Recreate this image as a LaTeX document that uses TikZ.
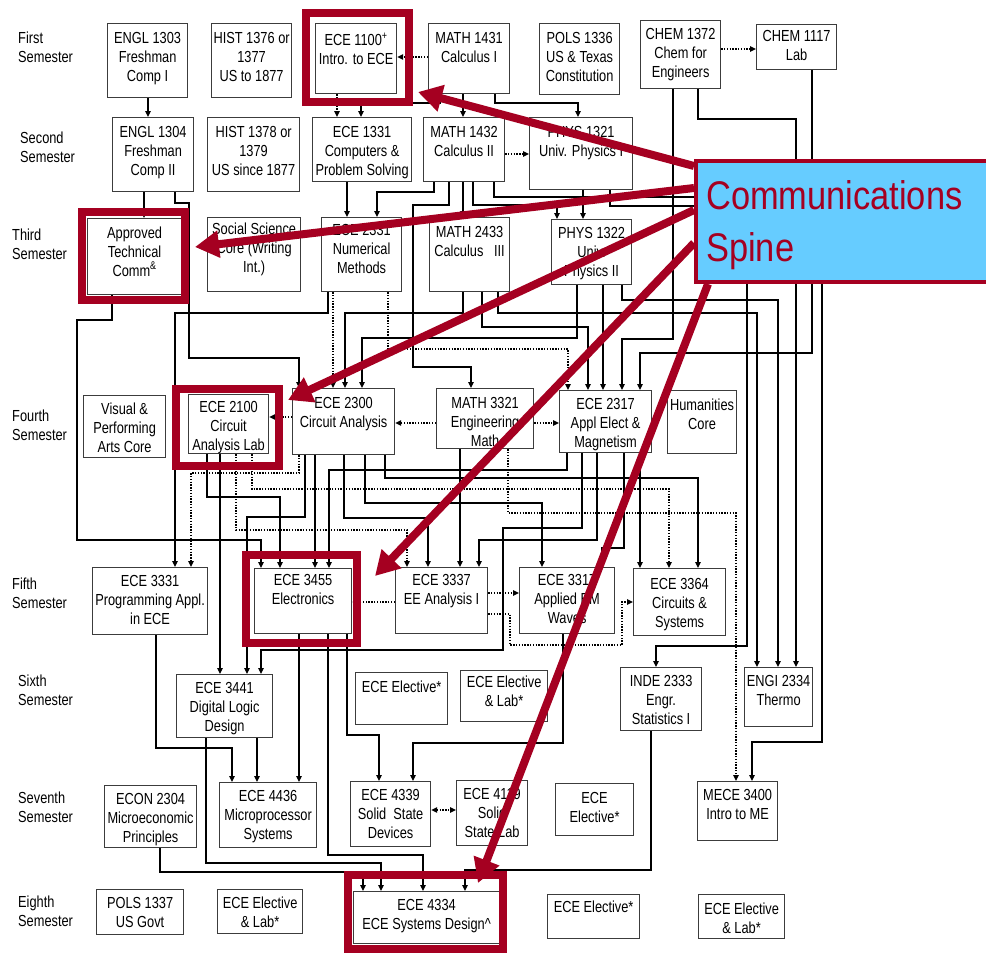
\documentclass[tikz,border=0pt]{standalone}
\usepackage{fontspec}
\usetikzlibrary{arrows.meta}
\newfontfamily\cf{Liberation Sans}[FakeStretch=0.8]
\newfontfamily\spinefont{Liberation Sans}[FakeStretch=0.86]
\newcommand\tf{\cf\fontsize{16}{19}\selectfont}
\newcommand\cs{\rule{0pt}{11.5pt}}
\definecolor{spred}{RGB}{165,0,33}
\definecolor{spblue}{RGB}{102,204,255}
\definecolor{boxc}{RGB}{60,60,60}
\pgfdeclarelayer{fg}
\pgfsetlayers{main,fg}
\tikzset{
 box/.style={draw=boxc, line width=1.2pt, fill=white, inner sep=0pt, anchor=north west, font=\tf},
 lab/.style={anchor=north west, inner sep=0pt, align=left, font=\tf},
 wire/.style={line width=1.1pt},
 arr/.style={wire, -{Triangle[length=6pt,width=5.5pt]}},
 dotw/.style={line width=1.3pt, dash pattern=on 1.4pt off 1.4pt},
 darr/.style={dotw, -{Triangle[length=6pt,width=5.5pt]}},
 dd/.style={dotw, {Triangle[length=6pt,width=5.5pt]}-{Triangle[length=6pt,width=5.5pt]}},
 frame/.style={draw=spred, line width=8pt},
 spinearr/.style={draw=spred, line width=8pt, -{Triangle[length=24pt,width=26pt]}},
}
\newcommand\cbox[7]{\node[box] (#1) at (#2,#3) {\parbox[c][#5pt][t]{#4pt}{\centering\vspace*{#6pt}\cs #7\par}};}
\begin{document}
\begin{tikzpicture}[x=1pt,y=-1pt]
\useasboundingbox (0,0) rectangle (986,953);
% semester labels
\node[lab] (s1) at (18,32) {\cs First\\Semester};
\node[lab] (s2) at (20,132) {\cs Second\\Semester};
\node[lab] (s3) at (12,229) {\cs Third\\Semester};
\node[lab] (s4) at (12,410) {\cs Fourth\\Semester};
\node[lab] (s5) at (12,578) {\cs Fifth\\Semester};
\node[lab] (s6) at (18,675) {\cs Sixth\\Semester};
\node[lab] (s7) at (18,792) {\cs Seventh\\Semester};
\node[lab] (s8) at (18,896) {\cs Eighth\\Semester};
% boxes
\cbox{engl1303}{107}{23}{80}{74}{8}{ENGL 1303\\Freshman\\Comp I}
\cbox{hist1376}{211}{23}{80}{74}{8}{HIST 1376 or\\1377\\US to 1877}
\cbox{ece1100}{315}{23}{81}{70}{9}{ECE 1100\textsuperscript{+}\\Intro. to ECE}
\cbox{math1431}{428}{23}{81}{70}{8}{MATH 1431\\Calculus I}
\cbox{pols1336}{539}{23}{80}{71}{8}{POLS 1336\\US \& Texas\\Constitution}
\cbox{chem1372}{640}{20}{80}{68}{7}{CHEM 1372\\Chem for\\Engineers}
\cbox{chem1117}{756}{24}{80}{45}{5}{CHEM 1117\\Lab}
\cbox{engl1304}{112}{117}{81}{74}{8}{ENGL 1304\\Freshman\\Comp II}
\cbox{hist1378}{207}{117}{92}{74}{8}{HIST 1378 or\\1379\\US since 1877}
\cbox{ece1331}{312}{117}{99}{64}{8}{ECE 1331\\Computers \&\\Problem Solving}
\cbox{math1432}{423}{117}{81}{64}{8}{MATH 1432\\Calculus II}
\cbox{phys1321}{529}{117}{103}{72}{8}{PHYS 1321\\Univ. Physics I}
\cbox{atc}{87}{218}{94}{76}{8}{Approved\\Technical\\Comm\textsuperscript{\&}}
\cbox{socsci}{207}{217}{93}{74}{5}{Social Science\\Core (Writing\\Int.)}
\cbox{ece2331}{321}{217}{80}{74}{6}{ECE 2331\\Numerical\\Methods}
\cbox{math2433}{429}{217}{80}{74}{8}{MATH 2433\\Calculus\ \ \ III}
\cbox{phys1322}{551}{219}{80}{65}{7}{PHYS 1322\\Univ.\\Physics II}
\cbox{visual}{83}{395}{82}{62}{7}{Visual \&\\Performing\\Arts Core}
\cbox{ece2100}{188}{394}{80}{59}{6}{ECE 2100\\Circuit\\Analysis Lab}
\cbox{ece2300}{292}{388}{102}{66}{8}{ECE 2300\\Circuit Analysis}
\cbox{math3321}{436}{388}{97}{60}{8}{MATH 3321\\Engineering\\Math}
\cbox{ece2317}{559}{390}{92}{62}{7}{ECE 2317\\Appl Elect \&\\Magnetism}
\cbox{human}{667}{390}{69}{63}{8}{Humanities\\Core}
\cbox{ece3331}{92}{567}{115}{67}{7}{ECE 3331\\Programming Appl.\\in ECE}
\cbox{ece3455}{254}{568}{97}{65}{5}{ECE 3455\\Electronics}
\cbox{ece3337}{395}{567}{92}{66}{6}{ECE 3337\\EE Analysis I}
\cbox{ece3317}{519}{567}{95}{66}{6}{ECE 3317\\Applied EM\\Waves}
\cbox{ece3364}{633}{568}{92}{67}{9}{ECE 3364\\Circuits \&\\Systems}
\cbox{ece3441}{176}{674}{96}{63}{7}{ECE 3441\\Digital Logic\\Design}
\cbox{elecsixa}{355}{672}{92}{52}{8}{ECE Elective*}
\cbox{elecsixb}{460}{670}{87}{51}{5}{ECE Elective\\\& Lab*}
\cbox{inde2333}{620}{667}{81}{63}{7}{INDE 2333\\Engr.\\Statistics I}
\cbox{engi2334}{744}{667}{68}{59}{7}{ENGI 2334\\Thermo}
\cbox{econ2304}{104}{785}{92}{62}{7}{ECON 2304\\Microeconomic\\Principles}
\cbox{ece4436}{219}{782}{97}{65}{7}{ECE 4436\\Microprocessor\\Systems}
\cbox{ece4339}{350}{781}{80}{65}{7}{ECE 4339\\Solid\ \ State\\Devices}
\cbox{ece4119}{456}{780}{71}{65}{7}{ECE 4119\\Solid\\State Lab}
\cbox{elecseven}{555}{783}{78}{52}{8}{ECE\\Elective*}
\cbox{mece3400}{697}{781}{80}{59}{7}{MECE 3400\\Intro to ME}
\cbox{pols1337}{96}{889}{87}{45}{7}{POLS 1337\\US Govt}
\cbox{eleceighta}{217}{889}{85}{44}{7}{ECE Elective\\\& Lab*}
\cbox{ece4334}{353}{891}{146}{52}{7}{ECE 4334\\ECE Systems Design\textasciicircum}
\cbox{eleceightb}{547}{894}{92}{44}{6}{ECE Elective*}
\cbox{eleceightc}{698}{894}{86}{44}{8}{ECE Elective\\\& Lab*}
% connectors rows 1-3
\draw[arr] (engl1303.south -| 148,0) -- (engl1304.north -| 148,0);
\draw[darr] (ece1100.south -| 337,0) -- (ece1331.north -| 337,0);
\draw[arr] (math1431.south -| 440,0) |- (361,103) -- (ece1331.north -| 361,0);
\draw[arr] (math1431.south -| 463,0) -- (math1432.north -| 463,0);
\draw[arr] (math1431.south -| 495,0) |- (578,103) -- (phys1321.north -| 578,0);
\draw[darr] (math1431.west |- 0,57) -- (ece1100.east |- 0,57);
\draw[darr] (chem1372.east |- 0,49) -- (chem1117.west |- 0,49);
\draw[darr] (math1432.east |- 0,154) -- (phys1321.west |- 0,154);
\draw[arr] (engl1304.south -| 144,0) -- (atc.north -| 144,0);
\draw[arr] (engl1304.south -| 175,0) |- (189,203) |- (299,358) -- (ece2300.north -| 299,0);
\draw[arr] (ece1331.south -| 347,0) -- (ece2331.north -| 347,0);
\draw[arr] (math1432.south -| 434,0) |- (377,192) -- (ece2331.north -| 377,0);
\draw[arr] (math1432.south -| 449,0) |- (413,205) |- (471,367) -- (math3321.north -| 471,0);
\draw[arr] (math1432.south -| 463,0) -- (math2433.north -| 463,0);
\draw[arr] (math1432.south -| 473,0) |- (557,205) -- (phys1322.north -| 557,0);
\draw[arr] (math1432.south -| 494,0) |- (747,197) |- (656,646) -- (inde2333.north -| 656,0);
\draw[arr] (phys1321.south -| 583,0) -- (phys1322.north -| 583,0);
\draw[arr] (phys1321.south -| 610,0) |- (822,206) |- (752,742) -- (mece3400.north -| 752,0);
\draw[arr] (ece2331.south -| 328,0) |- (175,313) -- (ece3331.north -| 175,0);
\draw[arr] (math2433.south -| 463,0) |- (345,313) -- (ece2300.north -| 345,0);
\draw[arr] (math2433.south -| 498,0) |- (757,313) -- (engi2334.north -| 757,0);
\draw[arr] (math2433.south -| 482,0) |- (588,327) -- (ece2317.north -| 588,0);
\draw[darr] (ece2331.south -| 333,0) -- (ece2300.north -| 333,0);
\draw[darr] (ece2331.south -| 388,0) |- (568,349) -- (ece2317.north -| 568,0);
\draw[arr] (phys1322.south -| 577,0) |- (362,338) -- (ece2300.north -| 362,0);
\draw[arr] (phys1322.south -| 603,0) -- (ece2317.north -| 603,0);
\draw[arr] (phys1322.south -| 622,0) |- (778,300) -- (engi2334.north -| 778,0);
\draw[arr] (chem1372.south -| 673,0) |- (622,339) -- (ece2317.north -| 622,0);
\draw[arr] (chem1372.south -| 698,0) |- (796,119) -- (engi2334.north -| 796,0);
\draw[arr] (chem1117.south -| 812,0) |- (640,353) -- (ece2317.north -| 640,0);
\draw[arr] (atc.south -| 112,0) |- (77,320) |- (261,540) -- (ece3455.north -| 261,0);
\draw[darr] (ece2300.west |- 0,417) -- (ece2100.east |- 0,417);
\draw[darr] (math3321.west |- 0,423) -- (ece2300.east |- 0,423);
\draw[darr] (math3321.east |- 0,423) -- (ece2317.west |- 0,423);
% rows 4-5
\draw[darr] (ece2300.south -| 299,0) |- (191,473) -- (ece3331.north -| 191,0);
\draw[arr] (ece2300.south -| 305,0) |- (247,517) -- (ece3441.north -| 247,0);
\draw[arr] (ece2300.south -| 315,0) -- (ece3455.north -| 315,0);
\draw[arr] (ece2300.south -| 344,0) |- (428,518) -- (ece3337.north -| 428,0);
\draw[arr] (ece2300.south -| 365,0) |- (542,503) -- (ece3317.north -| 542,0);
\draw[arr] (ece2300.south -| 385,0) |- (698,478) -- (ece3364.north -| 698,0);
\draw[arr] (ece2317.south -| 567,0) |- (329,470) -- (ece3455.north -| 329,0);
\draw[arr] (ece2317.south -| 582,0) |- (503,528) |- (261,650) -- (ece3441.north -| 261,0);
\draw[arr] (ece2317.south -| 597,0) |- (479,540) -- (ece3337.north -| 479,0);
\draw[arr] (ece2317.south -| 624,0) |- (602,548) -- (ece3317.north -| 602,0);
\draw[arr] (ece2317.south -| 640,0) -- (ece3364.north -| 640,0);
\draw[arr] (math3321.south -| 460,0) -- (ece3337.north -| 460,0);
\draw[darr] (math3321.south -| 508,0) |- (736,513) -- (mece3400.north -| 736,0);
\draw[arr] (ece2100.south -| 220,0) -- (ece3441.north -| 220,0);
\draw[arr] (ece2100.south -| 207,0) |- (280,497) -- (ece3455.north -| 280,0);
\draw[darr] (ece2100.south -| 236,0) |- (407,530) -- (ece3337.north -| 407,0);
\draw[darr] (ece2100.south -| 252,0) |- (669,489) -- (ece3364.north -| 669,0);
\draw[darr] (ece3337.east |- 0,593) -- (ece3317.west |- 0,593);
\draw[darr] (ece3337.west |- 0,602) -- (ece3455.east |- 0,602);
\draw[darr] (ece3337.east |- 0,614) -| (510,645) -| (622,602) -- (ece3364.west |- 0,602);
% rows 5-8
\draw[arr] (ece3331.south -| 156,0) |- (232,748) -- (ece4436.north -| 232,0);
\draw[arr] (ece3441.south -| 257,0) -- (ece4436.north -| 257,0);
\draw[arr] (ece3455.south -| 299,0) -- (ece4436.north -| 299,0);
\draw[arr] (ece3441.south -| 206,0) |- (381,863) -- (ece4334.north -| 381,0);
\draw[arr] (ece3455.south -| 328,0) |- (423,855) -- (ece4334.north -| 423,0);
\draw[arr] (econ2304.south -| 160,0) |- (363,872) -- (ece4334.north -| 363,0);
\draw[arr] (inde2333.south -| 651,0) |- (465,870) -- (ece4334.north -| 465,0);
\draw[arr] (ece3455.south -| 347,0) |- (379,735) -- (ece4339.north -| 379,0);
\draw[arr] (ece3317.south -| 563,0) |- (413,743) -- (ece4339.north -| 413,0);
\draw[dd] (ece4339.east |- 0,810) -- (ece4119.west |- 0,810);
% red highlight frames
\draw[frame] (306,13) rectangle (409,102);
\draw[frame] (82,212) rectangle (185,300);
\draw[frame] (176,389) rectangle (279,466);
\draw[frame] (246,555) rectangle (357,643);
\draw[frame] (348,875) rectangle (503,949);
% spine
\begin{pgfonlayer}{fg}
\node[draw=spred, line width=4pt, fill=spblue, anchor=north west, minimum width=310pt, minimum height=121pt, inner sep=0pt] (spine) at (694,159) {};
\node[anchor=base west, inner sep=0pt, text=spred, font=\spinefont\fontsize{40}{52}\selectfont] (sptxta) at (706,209) {Communications};
\node[anchor=base west, inner sep=0pt, text=spred, font=\spinefont\fontsize{40}{52}\selectfont] (sptxtb) at (706,261) {Spine};
\end{pgfonlayer}
\coordinate (t1) at (418,92);
\coordinate (t2) at (195,247);
\coordinate (t3) at (288,400);
\coordinate (t4) at (375,576);
\coordinate (t5) at (478,883);
\draw[spinearr] (spine.west |- 0,166) -- (t1);
\draw[spinearr] (spine.west |- 0,188) -- (t2);
\draw[spinearr] (spine.west |- 0,210) -- (t3);
\draw[spinearr] (spine.west |- 0,243) -- (t4);
\draw[spinearr] (spine.south -| 708,0) -- (t5);
\end{tikzpicture}
\end{document}
